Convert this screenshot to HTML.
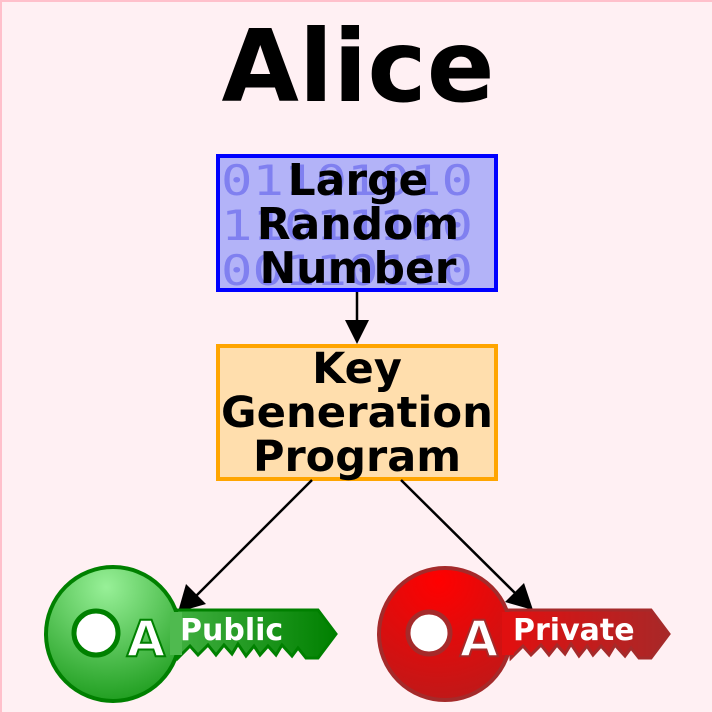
<!DOCTYPE html>
<html><head><meta charset="utf-8"><style>html,body{margin:0;padding:0;background:#fff0f3}svg{display:block}</style></head>
<body>
<svg width="714" height="714" viewBox="0 0 714 714" xmlns="http://www.w3.org/2000/svg">
<defs>
<radialGradient id="g1" cx="0.45" cy="0.15" r="0.9"><stop offset="0" stop-color="#98f098"/><stop offset="1" stop-color="#1a9a1a"/></radialGradient>
<linearGradient id="g1b" x1="0" y1="0" x2="1" y2="0"><stop offset="0" stop-color="#40b040"/><stop offset="1" stop-color="#008000"/></linearGradient>
<radialGradient id="g2" cx="0.45" cy="0.1" r="0.9"><stop offset="0" stop-color="#ff0000"/><stop offset="1" stop-color="#c01818"/></radialGradient>
<linearGradient id="g2b" x1="0" y1="0" x2="1" y2="0"><stop offset="0" stop-color="#e01010"/><stop offset="1" stop-color="#a82828"/></linearGradient>
</defs>
<rect x="1" y="1" width="712" height="712" fill="#fff0f3" stroke="#ffc0cb" stroke-width="2"/>
<text x="358" y="101" text-anchor="middle" font-family="DejaVu Sans, sans-serif" font-weight="bold" font-size="100">Alice</text>

<rect x="218" y="156" width="278" height="134" fill="#b3b3f8" stroke="#0000ff" stroke-width="4"/>
<g font-family="DejaVu Sans Mono, Liberation Mono, monospace" font-size="42" fill="#8080f0">
<text x="221" y="195" textLength="252" lengthAdjust="spacingAndGlyphs">01101010</text>
<text x="221" y="240" textLength="252" lengthAdjust="spacingAndGlyphs">11011100</text>
<text x="221" y="285" textLength="252" lengthAdjust="spacingAndGlyphs">00110110</text>
</g>
<g font-family="DejaVu Sans, sans-serif" font-weight="bold" font-size="44" text-anchor="middle">
<text x="358" y="195">Large</text>
<text x="358" y="239">Random</text>
<text x="358" y="283">Number</text>
</g>

<line x1="357" y1="292" x2="357" y2="322" stroke="#000" stroke-width="2.5"/>
<polygon points="345,320 369,320 357,344" fill="#000"/>

<rect x="218" y="346" width="278" height="133" fill="#ffdead" stroke="#ffa500" stroke-width="4"/>
<g font-family="DejaVu Sans, sans-serif" font-weight="bold" font-size="43" text-anchor="middle">
<text x="357" y="383">Key</text>
<text x="357" y="427" textLength="272" lengthAdjust="spacingAndGlyphs">Generation</text>
<text x="357" y="471">Program</text>
</g>

<line x1="312" y1="480" x2="196" y2="596" stroke="#000" stroke-width="2.5"/>
<polygon points="178,612 186,584 206,604" fill="#000"/>
<line x1="401" y1="480" x2="516" y2="594" stroke="#000" stroke-width="2.5"/>
<polygon points="533,610 505,602 524,583" fill="#000"/>

<!-- public key -->
<g>
<path d="M175,610 L318,610 L336,634 L318,658 L306,658 L298,648 L292,656 L282,645 L276,655 L268,646 L260,655 L254,646 L246,656 L238,644 L232,654 L224,645 L216,655 L208,645 L198,655 L190,646 L178,658 Z" fill="url(#g1b)" stroke="#008000" stroke-width="3"/>
<circle cx="113" cy="634" r="67" fill="url(#g1)" stroke="#008000" stroke-width="4"/>
<rect x="170" y="612" width="12" height="43" fill="#4fba4f"/>
<circle cx="96" cy="633" r="22" fill="#fff" stroke="#008000" stroke-width="5"/>
<text x="146" y="656" text-anchor="middle" font-family="DejaVu Sans, sans-serif" font-weight="bold" font-size="50" fill="#fff" stroke="#008000" stroke-width="2">A</text>
<text x="180" y="640" font-family="DejaVu Sans, sans-serif" font-weight="bold" font-size="30" fill="#fff">Public</text>
</g>

<!-- private key -->
<g>
<path d="M508,610 L651,610 L669,634 L651,658 L639,658 L631,648 L625,656 L615,645 L609,655 L601,646 L593,655 L587,646 L579,656 L571,644 L565,654 L557,645 L549,655 L541,645 L531,655 L523,646 L511,658 Z" fill="url(#g2b)" stroke="#a52a2a" stroke-width="3"/>
<circle cx="445" cy="634" r="66" fill="url(#g2)" stroke="#a52a2a" stroke-width="4"/>
<rect x="502" y="612" width="12" height="43" fill="#e01010"/>
<circle cx="429" cy="633" r="21" fill="#fff" stroke="#a52a2a" stroke-width="5"/>
<text x="479" y="656" text-anchor="middle" font-family="DejaVu Sans, sans-serif" font-weight="bold" font-size="50" fill="#fff" stroke="#a52a2a" stroke-width="2">A</text>
<text x="513" y="640" font-family="DejaVu Sans, sans-serif" font-weight="bold" font-size="30" fill="#fff">Private</text>
</g>
</svg>
</body></html>
